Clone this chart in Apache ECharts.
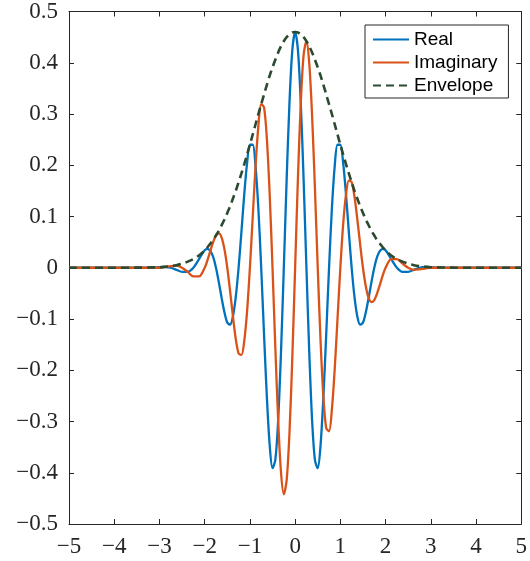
<!DOCTYPE html>
<html>
<head>
<meta charset="utf-8">
<script src="https://cdn.jsdelivr.net/npm/echarts@6/dist/echarts.min.js"></script>
<style>
  html, body { margin: 0; padding: 0; background: #fff; }
  #chart { width: 530px; height: 561px; }
</style>
</head>
<body>
<div id="chart"></div>
<script>
// Sample positions along t
const tValues = [
  -5, -4, -3.5, -3.25, -3, -2.875, -2.75, -2.625, -2.5, -2.375, -2.25, -2.125,
  -2, -1.9375, -1.875, -1.8125, -1.75, -1.6875, -1.625, -1.5625,
  -1.5, -1.4375, -1.375, -1.3125, -1.25, -1.1875, -1.125, -1.0625,
  -1, -0.9375, -0.875, -0.8125, -0.75, -0.6875, -0.625, -0.5625,
  -0.5, -0.4375, -0.375, -0.3125, -0.25, -0.1875, -0.125, -0.0625,
  0,
  0.0625, 0.125, 0.1875, 0.25, 0.3125, 0.375, 0.4375, 0.5,
  0.5625, 0.625, 0.6875, 0.75, 0.8125, 0.875, 0.9375, 1,
  1.0625, 1.125, 1.1875, 1.25, 1.3125, 1.375, 1.4375, 1.5,
  1.5625, 1.625, 1.6875, 1.75, 1.8125, 1.875, 1.9375, 2,
  2.125, 2.25, 2.375, 2.5, 2.625, 2.75, 2.875, 3, 3.25, 3.5, 4, 5
];

// Real part
const realValues = [
  0, 0, 0, 0, 0.001, 0.0015, 0, -0.004, -0.008, -0.008, 0, 0.017,
  0.034, 0.037, 0.033, 0.021, 0, -0.028, -0.059, -0.087,
  -0.107, -0.111, -0.095, -0.057, 0, 0.070, 0.143, 0.204,
  0.240, 0.240, 0.198, 0.115, 0, -0.130, -0.252, -0.346,
  -0.391, -0.375, -0.297, -0.165, 0, 0.172, 0.322, 0.424,
  0.460,
  0.424, 0.322, 0.172, 0, -0.165, -0.297, -0.375, -0.391,
  -0.346, -0.252, -0.130, 0, 0.115, 0.198, 0.240, 0.240,
  0.204, 0.143, 0.070, 0, -0.057, -0.095, -0.111, -0.107,
  -0.087, -0.059, -0.028, 0, 0.021, 0.033, 0.037, 0.034,
  0.017, 0, -0.008, -0.008, -0.004, 0, 0.0015, 0.001, 0, 0, 0, 0
];

// Imaginary part
const imagValues = [
  0, 0, 0, 0, 0, 0.0015, 0.003, 0.004, 0, -0.008, -0.017, -0.017,
  0, 0.015, 0.033, 0.050, 0.063, 0.067, 0.059, 0.036,
  0, -0.046, -0.095, -0.139, -0.167, -0.170, -0.143, -0.085,
  0, 0.099, 0.198, 0.277, 0.319, 0.313, 0.252, 0.143,
  0, -0.156, -0.297, -0.399, -0.442, -0.415, -0.322, -0.176,
  0,
  0.176, 0.322, 0.415, 0.442, 0.399, 0.297, 0.156, 0,
  -0.143, -0.252, -0.313, -0.319, -0.277, -0.198, -0.099, 0,
  0.085, 0.143, 0.170, 0.167, 0.139, 0.095, 0.046, 0,
  -0.036, -0.059, -0.067, -0.063, -0.050, -0.033, -0.015, 0,
  0.017, 0.017, 0.008, 0, -0.004, -0.003, -0.0015, 0, 0, 0, 0, 0
];

// Magnitude envelope
const envelopeValues = [
  0, 0, 0.0002, 0.0005, 0.001, 0.002, 0.003, 0.005, 0.008, 0.012, 0.017, 0.024,
  0.034, 0.040, 0.047, 0.054, 0.063, 0.072, 0.083, 0.094,
  0.107, 0.120, 0.135, 0.150, 0.167, 0.184, 0.202, 0.221,
  0.240, 0.260, 0.280, 0.300, 0.319, 0.338, 0.357, 0.375,
  0.391, 0.406, 0.420, 0.432, 0.442, 0.450, 0.455, 0.459,
  0.460,
  0.459, 0.455, 0.450, 0.442, 0.432, 0.420, 0.406, 0.391,
  0.375, 0.357, 0.338, 0.319, 0.300, 0.280, 0.260, 0.240,
  0.221, 0.202, 0.184, 0.167, 0.150, 0.135, 0.120, 0.107,
  0.094, 0.083, 0.072, 0.063, 0.054, 0.047, 0.040, 0.034,
  0.024, 0.017, 0.012, 0.008, 0.005, 0.003, 0.002, 0.001, 0.0005, 0.0002, 0, 0
];

const seriesNames = ['Real', 'Imaginary', 'Envelope'];
const xTicks = { min: -5, max: 5, step: 1 };
const yTicks = { min: -0.5, max: 0.5, step: 0.1 };

const axisColor = '#262626';
const pair = (ys) => tValues.map((t, i) => [t, ys[i]]);
const fmt = (v) => {
  const r = Math.round(v * 10) / 10;
  return String(r).replace('-', '\u2212');
};

const tickLabel = {
  fontFamily: 'Liberation Serif',
  fontSize: 23,
  color: axisColor
};

function axisBase(extra) {
  return Object.assign({
    type: 'value',
    axisLine: { show: true, onZero: false, lineStyle: { color: axisColor, width: 1 } },
    axisTick: { show: true, inside: true, length: 5, lineStyle: { color: axisColor, width: 1 } },
    splitLine: { show: false }
  }, extra);
}

const chart = echarts.init(document.getElementById('chart'), null, { renderer: 'canvas' });

chart.setOption({
  animation: false,
  backgroundColor: '#ffffff',
  grid: { left: 69, right: 8, top: 11, bottom: 37, containLabel: false },
  xAxis: [
    axisBase({
      position: 'bottom',
      min: xTicks.min, max: xTicks.max, interval: xTicks.step,
      axisLabel: Object.assign({ margin: 11, formatter: fmt }, tickLabel)
    }),
    axisBase({
      position: 'top',
      min: xTicks.min, max: xTicks.max, interval: xTicks.step,
      axisLabel: { show: false }
    })
  ],
  yAxis: [
    axisBase({
      position: 'left',
      min: yTicks.min, max: yTicks.max, interval: yTicks.step,
      axisLabel: Object.assign({ margin: 11, formatter: fmt }, tickLabel)
    }),
    axisBase({
      position: 'right',
      min: yTicks.min, max: yTicks.max, interval: yTicks.step,
      axisLabel: { show: false }
    })
  ],
  legend: {
    orient: 'vertical',
    left: 365,
    top: 25,
    data: seriesNames,
    backgroundColor: '#ffffff',
    borderColor: axisColor,
    borderWidth: 1,
    borderRadius: 0,
    padding: [5, 11, 3, 7],
    itemGap: 4,
    itemWidth: 36,
    itemHeight: 14,
    itemStyle: { opacity: 0 },
    textStyle: { fontFamily: 'Liberation Sans', fontSize: 19, color: '#000', lineHeight: 18 }
  },
  series: [
    {
      name: seriesNames[0], type: 'line', data: pair(realValues),
      smooth: 0.3, symbol: 'none', showSymbol: false,
      lineStyle: { color: '#0072BD', width: 2.3 }, itemStyle: { color: '#0072BD' }
    },
    {
      name: seriesNames[1], type: 'line', data: pair(imagValues),
      smooth: 0.3, symbol: 'none', showSymbol: false,
      lineStyle: { color: '#D95319', width: 2.3 }, itemStyle: { color: '#D95319' }
    },
    {
      name: seriesNames[2], type: 'line', data: pair(envelopeValues),
      smooth: 0.3, symbol: 'none', showSymbol: false,
      lineStyle: { color: '#2B4A2F', width: 2.6, type: [8, 5] }, itemStyle: { color: '#2B4A2F' }
    }
  ]
});
</script>
</body>
</html>
